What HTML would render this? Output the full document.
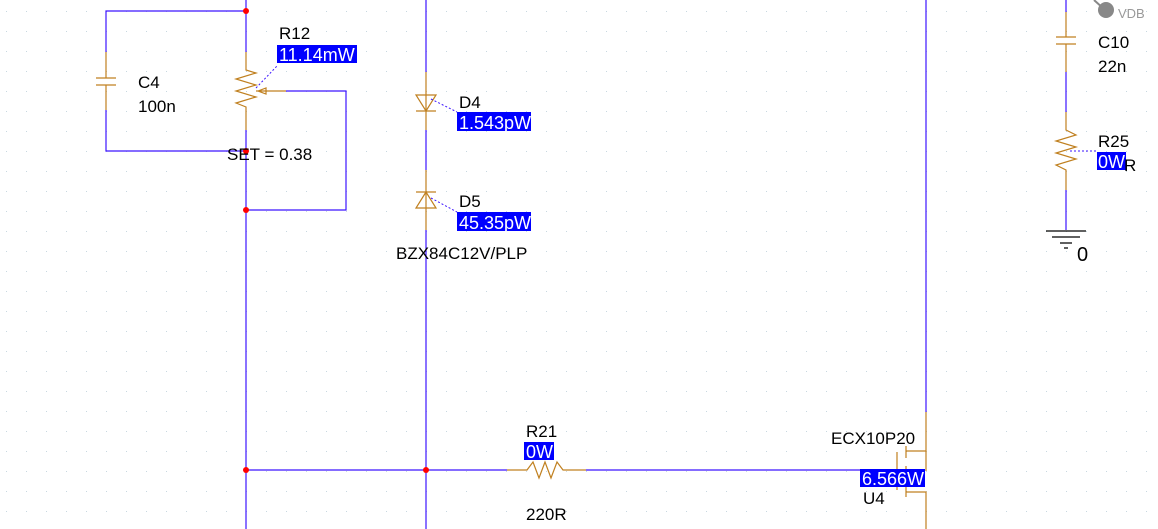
<!DOCTYPE html>
<html><head><style>
body{margin:0;background:#fff;}
svg{display:block;font-family:"Liberation Sans",sans-serif;}
</style></head><body>
<svg width="1158" height="529" viewBox="0 0 1158 529" xmlns="http://www.w3.org/2000/svg">
<defs><pattern id="g" width="20" height="20" patternUnits="userSpaceOnUse" x="6" y="11"><rect x="0" y="0" width="1" height="1" fill="#c8d8e0"/></pattern></defs>
<rect width="1158" height="529" fill="url(#g)"/>
<g stroke="#3c14ff" stroke-width="1.2" fill="none">
<path d="M246 0V52M246 130V529"/>
<path d="M106 52V11H246M106 110V151H246"/>
<path d="M286 91H346V210H246"/>
<path d="M426 0V72M426 130V170M426 230V529"/>
<path d="M246 470H507M586 470H860"/>
<path d="M926 0V412"/>
<path d="M1066 0V12M1066 72V112M1066 190V230"/>
</g>
<g stroke="#c08020" stroke-width="1.2" fill="none">
<path d="M106 52V78M96 78H116M96 85H116M106 85V110"/>
<path d="M246 52V70L256 73L236 79L256 85L236 91L256 97L236 103L246 107V130"/>
<path d="M256 91H286M258 91L266 88V94Z"/>
<path d="M426 72V130M416 95H436L426 111ZM416 111H436"/>
<path d="M426 170V230M416 192H436M426 192L416 208H436Z"/>
<path d="M507 470H527L533 462L539 478L545 462L551 478L557 462L563 470H586"/>
<path d="M926 412V471M906 451H926M906 492H926V529M897 452V490M906 446V458M906 466V478M906 486V497"/>
<path d="M1066 12V37M1056 37H1076M1056 44H1076M1066 44V72"/>
<path d="M1066 112V130L1076 135L1056 141L1076 147L1056 153L1076 159L1056 165L1066 170V190"/>
</g>
<g stroke="#000" stroke-width="1.2"><path d="M1046 231H1086M1052 237H1080M1060 243H1072M1064 248H1068"/></g>
<g stroke="#3c14ff" stroke-dasharray="2,2" fill="none"><path d="M256 88L277 66M431 99L457 112M431 198L457 212M1070 151H1097"/></g>
<g fill="#ff0000"><circle cx="246" cy="11" r="3"/><circle cx="246" cy="151" r="3"/><circle cx="246" cy="210" r="3"/><circle cx="246" cy="470" r="3"/><circle cx="426" cy="470" r="3"/></g>
<line x1="1094" y1="0" x2="1104" y2="9" stroke="#888" stroke-width="2"/>
<circle cx="1106" cy="10" r="8" fill="#888"/>
<text x="1118" y="18" font-size="13" fill="#999">VDB</text>
<g fill="#0000ff"><rect x="277" y="45" width="80" height="18"/><rect x="457" y="112" width="74" height="19"/><rect x="457" y="212" width="74" height="19"/><rect x="524" y="442" width="30" height="18"/><rect x="860" y="469" width="65" height="18"/><rect x="1097" y="152" width="29" height="18"/></g>
<g font-size="17" fill="#000">
<text x="279" y="39">R12</text>
<text x="138" y="88">C4</text><text x="138" y="112">100n</text>
<text x="227" y="160">SET = 0.38</text>
<text x="459" y="108">D4</text><text x="459" y="207">D5</text>
<text x="396" y="259">BZX84C12V/PLP</text>
<text x="526" y="437">R21</text><text x="526" y="520">220R</text>
<text x="831" y="444">ECX10P20</text><text x="863" y="504">U4</text>
<text x="1098" y="48">C10</text><text x="1098" y="72">22n</text>
<text x="1098" y="147">R25</text><text x="1124" y="171">R</text>
<text x="1077" y="261" font-size="20">0</text>
</g>
<g font-size="18" fill="#fff">
<text x="279" y="61">11.14mW</text>
<text x="459" y="129">1.543pW</text>
<text x="459" y="229">45.35pW</text>
<text x="526" y="458">0W</text>
<text x="862" y="485">6.566W</text>
<text x="1098" y="168">0W</text>
</g>
</svg>
</body></html>
